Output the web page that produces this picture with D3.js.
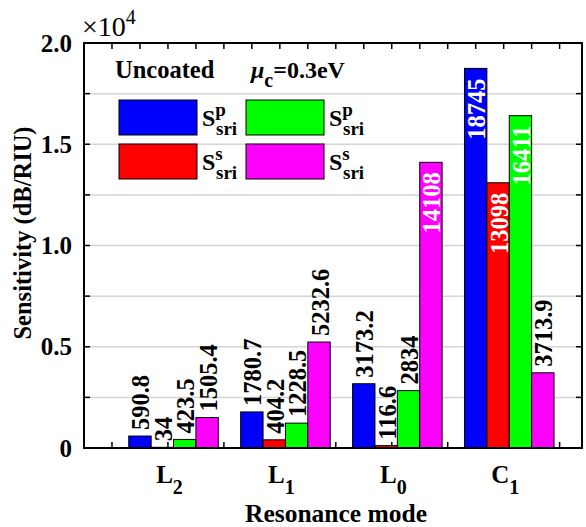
<html>
	<head>
		<script type="text/javascript" src="https://cdn.jsdelivr.net/npm/d3@7"></script>
		<style>
			body { margin: 0; background: #fff; }
			text { font-family: "Liberation Serif", "Times New Roman", serif; font-weight: bold; }
		</style>
	</head>
	<body>
		<script type="text/javascript">

			//data
			var categories = ['L', 'L', 'L', 'C'],
				categorySubs = ['2', '1', '0', '1'],
				seriesColors = ['#0000ff', '#ff0000', '#00ff00', '#ff00ff'],
				blueValues = [590.8, 1780.7, 3173.2, 18745],
				redValues = [34, 404.2, 116.6, 13098],
				greenValues = [423.5, 1228.5, 2834, 16411],
				magentaValues = [1505.4, 5232.6, 14108, 3713.9],
				valueLabels = [
					['590.8', '1780.7', '3173.2', '18745'],
					['34', '404.2', '116.6', '13098'],
					['423.5', '1228.5', '2834', '16411'],
					['1505.4', '5232.6', '14108', '3713.9']
				],
				insideLabel = [
					[false, false, false, true],
					[false, false, false, true],
					[false, false, false, true],
					[false, false, true, false]
				],
				yTickValues = [0, 5000, 10000, 15000, 20000],
				yTickLabels = ['0', '0.5', '1.0', '1.5', '2.0'];

			var series = [blueValues, redValues, greenValues, magentaValues];

			//global variables
			var width = 586,
				height = 527,
				pLeft = 84,
				pRight = 582,
				pTop = 43,
				pBottom = 448,
				barWidth = 0.2,
				tickLen = 6;

			var x = d3.scaleLinear()
				.domain([0.2, 4.65])
				.range([pLeft, pRight]);

			var y = d3.scaleLinear()
				.domain([0, 20000])
				.range([pBottom, pTop]);

			var svg = d3.select('body').append('svg')
				.attr('width', width)
				.attr('height', height);

			//grid lines
			var minorY = d3.range(0, 20001, 2500);
			svg.append('g').selectAll('line').data(minorY.slice(1, -1)).enter().append('line')
				.attr('x1', pLeft).attr('x2', pRight)
				.attr('y1', function(d){ return y(d); })
				.attr('y2', function(d){ return y(d); })
				.attr('stroke', '#d4d4d4')
				.attr('stroke-width', 1.5);

			//ticks, drawn under bars
			var minorX = d3.range(0.45, 4.5, 0.25);
			var ticks = svg.append('g').attr('stroke', '#000').attr('stroke-width', 1.5);
			minorX.forEach(function(v){
				ticks.append('line').attr('x1', x(v)).attr('x2', x(v)).attr('y1', pTop).attr('y2', pTop + tickLen);
				ticks.append('line').attr('x1', x(v)).attr('x2', x(v)).attr('y1', pBottom).attr('y2', pBottom - tickLen);
			});
			minorY.forEach(function(v){
				ticks.append('line').attr('x1', pLeft).attr('x2', pLeft + tickLen).attr('y1', y(v)).attr('y2', y(v));
				ticks.append('line').attr('x1', pRight).attr('x2', pRight - tickLen).attr('y1', y(v)).attr('y2', y(v));
			});

			//bars
			series.forEach(function(vals, s){
				svg.append('g').selectAll('rect').data(vals).enter().append('rect')
					.attr('x', function(d, i){ return x(i + 1 + (s - 2) * barWidth); })
					.attr('y', function(d){ return y(d); })
					.attr('width', x(barWidth) - x(0))
					.attr('height', function(d){ return y(0) - y(d); })
					.attr('fill', seriesColors[s])
					.attr('stroke', '#000')
					.attr('stroke-width', 1);
			});

			//value labels
			series.forEach(function(vals, s){
				vals.forEach(function(d, i){
					var cx = x(i + 1 + (s - 1.5) * barWidth),
						inside = insideLabel[s][i],
						cy = inside ? y(d) + 10 : y(d) - 6;
					svg.append('text')
						.attr('transform', 'translate(' + (cx + 1) + ',' + cy + ') rotate(-90)')
						.attr('text-anchor', inside ? 'end' : 'start')
						.attr('dominant-baseline', 'central')
						.attr('font-size', 24.5)
						.attr('fill', inside ? '#fff' : '#000')
						.text(valueLabels[s][i]);
				});
			});

			//axes box
			svg.append('rect')
				.attr('x', pLeft).attr('y', pTop)
				.attr('width', pRight - pLeft).attr('height', pBottom - pTop)
				.attr('fill', 'none')
				.attr('stroke', '#000')
				.attr('stroke-width', 2);

			//y tick labels
			svg.append('g').selectAll('text').data(yTickValues).enter().append('text')
				.attr('x', 72)
				.attr('y', function(d){ return y(d); })
				.attr('text-anchor', 'end')
				.attr('dominant-baseline', 'central')
				.attr('font-size', 25)
				.text(function(d, i){ return yTickLabels[i]; });

			//exponent
			var ex = svg.append('text')
				.attr('x', 82).attr('y', 36)
				.attr('font-size', 28)
				.style('font-weight', 'normal');
			ex.append('tspan').text('\u00d710');
			ex.append('tspan').attr('dy', -12).attr('font-size', 20).text('4');

			//x tick labels
			categories.forEach(function(c, i){
				var t = svg.append('text')
					.attr('x', x(i + 1) - 4)
					.attr('y', 483)
					.attr('text-anchor', 'middle')
					.attr('font-size', 25);
				t.append('tspan').text(c);
				t.append('tspan').attr('dy', 11).attr('font-size', 20).text(categorySubs[i]);
			});

			//axis labels
			svg.append('text')
				.attr('x', 336)
				.attr('y', 522)
				.attr('text-anchor', 'middle')
				.attr('font-size', 25.5)
				.text('Resonance mode');

			svg.append('text')
				.attr('transform', 'translate(31,233) rotate(-90)')
				.attr('text-anchor', 'middle')
				.attr('font-size', 24.5)
				.text('Sensitivity (dB/RIU)');

			//legend
			svg.append('text')
				.attr('x', 115).attr('y', 78)
				.attr('font-size', 24.5)
				.text('Uncoated');

			var mu = svg.append('text')
				.attr('x', 251).attr('y', 78)
				.attr('font-size', 24);
			mu.append('tspan').attr('font-style', 'italic').text('\u03bc');
			mu.append('tspan').attr('dy', 9).attr('font-size', 20).text('c');
			mu.append('tspan').attr('dy', -9).text('=0.3eV');

			var legendItems = [
				{ s: 0, lx: 119, ly: 100, sup: 'p' },
				{ s: 2, lx: 246, ly: 100, sup: 'p' },
				{ s: 1, lx: 119, ly: 144, sup: 's' },
				{ s: 3, lx: 246, ly: 144, sup: 's' }
			];

			legendItems.forEach(function(d){
				svg.append('rect')
					.attr('x', d.lx).attr('y', d.ly)
					.attr('width', 78).attr('height', 35)
					.attr('fill', seriesColors[d.s])
					.attr('stroke', '#000')
					.attr('stroke-width', 1);
				var t = svg.append('text')
					.attr('x', d.lx + 83).attr('y', d.ly + 26)
					.attr('font-size', 24);
				t.append('tspan').text('S');
				t.append('tspan').attr('dy', -10).attr('font-size', 19).text(d.sup);
				t.append('tspan').attr('x', d.lx + 97).attr('dy', 19).attr('font-size', 19).text('sri');
			});

		</script>
	</body>
</html>
